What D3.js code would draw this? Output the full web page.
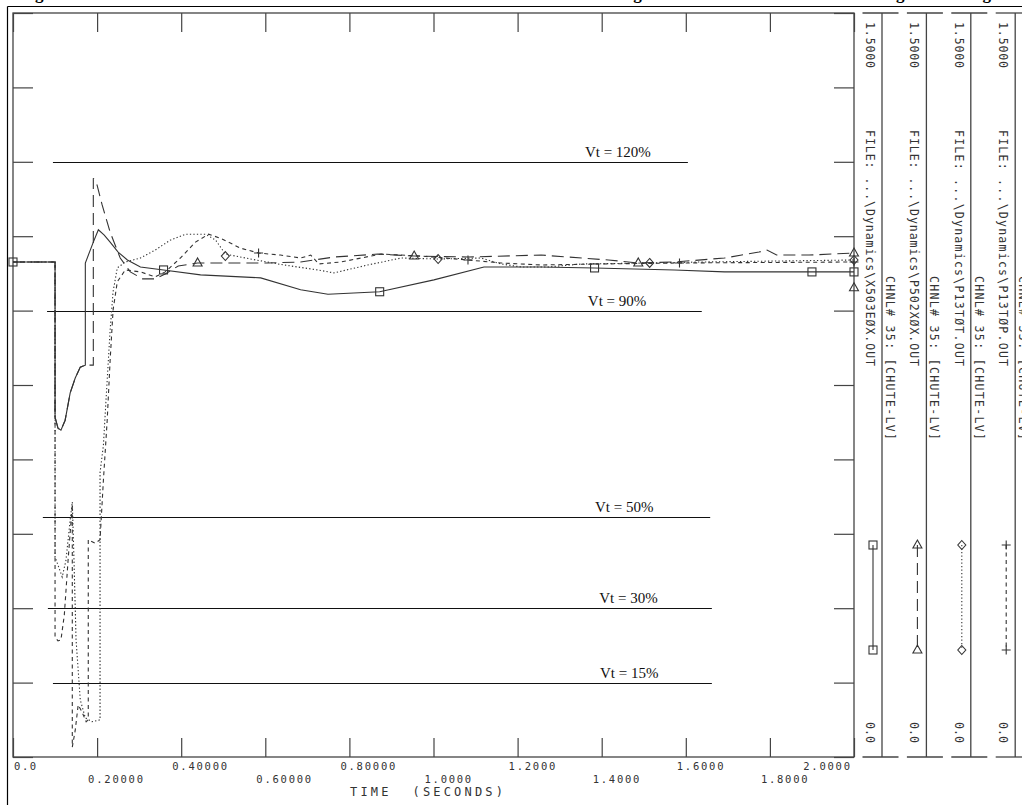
<!DOCTYPE html>
<html><head><meta charset="utf-8">
<script src="https://cdn.jsdelivr.net/npm/d3@7"></script>
<style>body{margin:0;background:#fff} svg{display:block}</style>
</head><body>
<svg id="c" width="1022" height="805"></svg>
<script>
// ---------------- data ----------------
const titleText = "Figure 4-14: Worst Line Fault Cases \u2013 Generator Terminal Voltage versus Fault Ride-Through Settings";
const xTicks = [0, 0.2, 0.4, 0.6, 0.8, 1.0, 1.2, 1.4, 1.6, 1.8, 2.0];
const xTickLabels = ["0.0","0.20000","0.40000","0.60000","0.80000","1.0000","1.2000","1.4000","1.6000","1.8000","2.0000"];
const yTicks = [0, 0.15, 0.3, 0.45, 0.6, 0.75, 0.9, 1.05, 1.2, 1.35, 1.5];
const xTitle = "TIME  (SECONDS)";
const yMaxLabel = "1.5000";
const yMinLabel = "0.0";
const fileNames = ["...\\Dynamics\\X503E\u00D8X.OUT", "...\\Dynamics\\P502X\u00D8X.OUT", "...\\Dynamics\\P13T\u00D8T.OUT", "...\\Dynamics\\P13T\u00D8P.OUT"];
const channelLabel = "CHNL# 35: [CHUTE-LV]";
const markerTypes = ["square", "triangle", "diamond", "plus"];

// series A (solid, squares) [time, volts pu]
const seriesA = [[0,0.998],[0.100,0.998],[0.100,0.685],[0.107,0.663],[0.114,0.659],[0.124,0.679],[0.136,0.734],[0.148,0.764],[0.160,0.786],[0.172,0.790],[0.172,0.996],[0.191,1.038],[0.203,1.063],[0.217,1.052],[0.231,1.038],[0.250,1.018],[0.272,1.002],[0.303,0.988],[0.358,0.982],[0.446,0.972],[0.589,0.966],[0.684,0.942],[0.749,0.933],[0.872,0.938],[1.001,0.962],[1.120,0.988],[1.256,0.988],[1.383,0.986],[1.573,0.982],[1.692,0.978],[2.0,0.978]];
const markersA = [[0,0.998],[0.358,0.982],[0.872,0.938],[1.383,0.986],[1.9,0.978],[2.0,0.978]];
// series B (long dash, triangles)
const seriesB = [[0,0.998],[0.100,0.998],[0.100,0.685],[0.107,0.663],[0.114,0.659],[0.124,0.679],[0.136,0.734],[0.148,0.764],[0.160,0.786],[0.172,0.790],[0.191,0.790],[0.191,1.167],[0.200,1.153],[0.212,1.113],[0.231,1.058],[0.255,1.006],[0.279,0.978],[0.308,0.964],[0.338,0.964],[0.362,0.974],[0.393,0.990],[0.439,0.996],[0.524,0.996],[0.605,0.996],[0.684,0.998],[0.763,1.008],[0.868,1.014],[0.954,1.010],[1.082,1.008],[1.256,1.012],[1.416,1.002],[1.487,0.996],[1.573,0.998],[1.692,1.006],[1.774,1.018],[1.793,1.022],[1.816,1.012],[1.893,1.012],[2.0,1.016]];
const markersB = [[0.439,0.996],[0.954,1.010],[1.487,0.996],[2.0,1.016],[2.0,0.946]];
// series C (dotted, diamonds)
const seriesC = [[0,0.998],[0.100,0.998],[0.100,0.403],[0.107,0.387],[0.117,0.363],[0.126,0.397],[0.136,0.478],[0.141,0.514],[0.145,0.397],[0.150,0.236],[0.160,0.115],[0.172,0.079],[0.188,0.071],[0.207,0.075],[0.207,0.573],[0.215,0.629],[0.224,0.760],[0.231,0.861],[0.238,0.938],[0.248,0.986],[0.267,0.998],[0.303,1.006],[0.338,1.022],[0.374,1.042],[0.410,1.054],[0.458,1.054],[0.482,1.042],[0.505,1.014],[0.565,1.004],[0.644,0.992],[0.725,0.982],[0.763,0.976],[0.844,0.992],[0.923,1.006],[1.011,1.004],[1.113,1.006],[1.161,0.994],[1.209,0.988],[1.273,0.988],[1.352,0.994],[1.514,0.996],[1.638,0.998],[2.0,1.002]];
const markersC = [[0.505,1.010],[1.011,1.004],[1.514,0.996],[2.0,1.002]];
// series D (short dash, plus)
const seriesD = [[0,0.998],[0.100,0.998],[0.100,0.242],[0.107,0.234],[0.114,0.236],[0.122,0.286],[0.131,0.397],[0.141,0.508],[0.141,0.020],[0.148,0.054],[0.155,0.105],[0.164,0.091],[0.174,0.071],[0.179,0.075],[0.179,0.438],[0.195,0.431],[0.207,0.438],[0.215,0.558],[0.224,0.679],[0.231,0.800],[0.238,0.901],[0.248,0.958],[0.267,0.982],[0.303,0.978],[0.338,0.968],[0.362,0.978],[0.398,1.006],[0.434,1.038],[0.465,1.054],[0.493,1.046],[0.541,1.026],[0.584,1.016],[0.636,1.012],[0.684,1.006],[0.708,1.012],[0.727,0.994],[0.780,0.998],[0.875,1.014],[0.970,1.010],[1.082,1.002],[1.161,0.996],[1.256,0.992],[1.399,0.994],[1.585,0.996],[2.0,0.998]];
const markersD = [[0.584,1.016],[1.082,1.002],[1.585,0.996],[2.0,0.998]];

// Vt reference lines
const vtLabels = ["Vt = 120%", "Vt = 90%", "Vt = 50%", "Vt = 30%", "Vt = 15%"];
const vtLevels = [1.2, 0.9, 0.484, 0.30, 0.15];
const vtStart = [0.095, 0.081, 0.071, 0.083, 0.095];
const vtEnd = [1.605, 1.638, 1.658, 1.662, 1.662];
const vtLabelT = [1.360, 1.367, 1.384, 1.394, 1.396];

// ---------------- drawing ----------------
const svg = d3.select("#c");
const X0 = 13, X1 = 854, Y0 = 757, Y1 = 13;
const x = d3.scaleLinear().domain([0, 2]).range([X0, X1]);
const y = d3.scaleLinear().domain([0, 1.5]).range([Y0, Y1]);
const INK = "#333";
const MONO = "'DejaVu Sans Mono', 'Liberation Mono', monospace";

// title (cut off at the top edge, as in the source page)
svg.append("text").attr("x", 15).attr("y", -1.5)
  .attr("font-family", "'Liberation Serif', serif").attr("font-weight", "bold")
  .attr("font-size", 17).attr("textLength", 985).attr("lengthAdjust", "spacing")
  .text(titleText);

// outer frame
svg.append("line").attr("x1", 7.5).attr("x2", 1022).attr("y1", 6.5).attr("y2", 6.5).attr("stroke", "#000").attr("stroke-width", 1.2);
svg.append("line").attr("x1", 7.5).attr("x2", 7.5).attr("y1", 6.5).attr("y2", 805).attr("stroke", "#000").attr("stroke-width", 1.2);

// plot frame
svg.append("rect").attr("x", X0).attr("y", Y1).attr("width", X1 - X0).attr("height", Y0 - Y1)
  .attr("fill", "none").attr("stroke", "#444").attr("stroke-width", 1.3);

function styleAxis(g) {
  g.select(".domain").remove();
  g.selectAll(".tick line").attr("stroke", "#444").attr("stroke-width", 1.2);
}
svg.append("g").attr("transform", `translate(0,${Y1})`)
  .call(d3.axisTop(x).tickValues(xTicks).tickSize(-19).tickFormat("")).call(styleAxis);
svg.append("g").attr("transform", `translate(0,${Y0})`)
  .call(d3.axisBottom(x).tickValues(xTicks).tickSize(-19).tickFormat("")).call(styleAxis);
svg.append("g").attr("transform", `translate(${X0},0)`)
  .call(d3.axisLeft(y).tickValues(yTicks).tickSize(-20).tickFormat("")).call(styleAxis);
svg.append("g").attr("transform", `translate(${X1},0)`)
  .call(d3.axisRight(y).tickValues(yTicks).tickSize(-20).tickFormat("")).call(styleAxis);

// x tick labels (alternating rows)
xTicks.forEach((t, i) => {
  const lab = xTickLabels[i];
  const n = lab.length;
  const w = n * 8.2 - 2.5;
  let xs = x(t) - 9;
  if (i === 0) xs = x(t) + 1;
  if (i === xTicks.length - 1) xs = x(t) - 4 - w;
  svg.append("text").attr("x", xs).attr("y", i % 2 === 0 ? 769.5 : 782.5)
    .attr("font-family", MONO).attr("font-size", 10.5).attr("fill", INK)
    .attr("textLength", w).attr("lengthAdjust", "spacing").text(lab);
});
svg.append("text").attr("x", 350).attr("y", 795.5)
  .attr("font-family", MONO).attr("font-size", 12).attr("fill", INK)
  .attr("textLength", 153).attr("lengthAdjust", "spacing").attr("xml:space", "preserve").text(xTitle);

// Vt reference lines
vtLabels.forEach((lab, i) => {
  svg.append("line").attr("x1", x(vtStart[i])).attr("x2", x(vtEnd[i]))
    .attr("y1", Math.round(y(vtLevels[i])) + 0.5).attr("y2", Math.round(y(vtLevels[i])) + 0.5)
    .attr("stroke", "#111").attr("stroke-width", 1);
  svg.append("text").attr("x", x(vtLabelT[i])).attr("y", y(vtLevels[i]) - 5)
    .attr("font-family", "'Liberation Serif', 'Times New Roman', serif").attr("font-size", 15)
    .attr("fill", "#111").text(lab);
});

// series
const line = d3.line().x(d => x(d[0])).y(d => y(d[1]));
const series = [
  {data: seriesA, markers: markersA, dash: null},
  {data: seriesB, markers: markersB, dash: "12,6"},
  {data: seriesC, markers: markersC, dash: "1.3,2.2"},
  {data: seriesD, markers: markersD, dash: "4,3.5"}
];

function marker(g, type, cx, cy) {
  let el;
  if (type === "square") el = g.append("rect").attr("x", cx - 4).attr("y", cy - 4).attr("width", 8).attr("height", 8);
  else if (type === "triangle") el = g.append("path").attr("d", `M${cx},${cy - 5}L${cx + 4.5},${cy + 3}L${cx - 4.5},${cy + 3}Z`);
  else if (type === "diamond") el = g.append("path").attr("d", `M${cx},${cy - 4.5}L${cx + 4},${cy}L${cx},${cy + 4.5}L${cx - 4},${cy}Z`);
  else el = g.append("path").attr("d", `M${cx - 4.5},${cy}H${cx + 4.5}M${cx},${cy - 4.5}V${cy + 4.5}`);
  el.attr("stroke", INK).attr("stroke-width", 1.1).attr("fill", "none");
}

const gS = svg.append("g");
series.forEach((s, i) => {
  gS.append("path").datum(s.data).attr("d", line)
    .attr("fill", "none").attr("stroke", INK).attr("stroke-width", 1.1)
    .attr("stroke-dasharray", s.dash);
  s.markers.forEach(m => marker(gS, markerTypes[i], x(m[0]), y(m[1])));
});

// right-hand legend panels
const PW = 44.4;
series.forEach((s, k) => {
  const dx = k * PW;
  const g = svg.append("g");
  [Y1, Y0].forEach(yy => g.append("line").attr("x1", 862.5 + dx).attr("x2", Math.min(898.5 + dx, 1022))
    .attr("y1", yy).attr("y2", yy).attr("stroke", "#444").attr("stroke-width", 1.3));
  g.append("line").attr("x1", 882 + dx).attr("x2", 882 + dx).attr("y1", Y1).attr("y2", Y0)
    .attr("stroke", "#444").attr("stroke-width", 1.3);
  const rot = (tx, ty, str, len) => g.append("text")
    .attr("transform", `translate(${tx},${ty}) rotate(90)`)
    .attr("font-family", MONO).attr("font-size", 11.5).attr("fill", INK)
    .attr("textLength", len).attr("lengthAdjust", "spacing").attr("xml:space", "preserve").text(str);
  rot(866 + dx, 22, yMaxLabel, 46);
  rot(866 + dx, 130, "FILE: " + fileNames[k], 236);
  rot(886 + dx, 276, channelLabel, 164);
  rot(866 + dx, 722, yMinLabel, 21);
  const lx = 873 + dx;
  g.append("line").attr("x1", lx).attr("x2", lx).attr("y1", 545).attr("y2", 650)
    .attr("stroke", INK).attr("stroke-width", 1.1).attr("stroke-dasharray", s.dash);
  marker(g, markerTypes[k], lx, 545);
  marker(g, markerTypes[k], lx, 650);
});
</script>
</body></html>
